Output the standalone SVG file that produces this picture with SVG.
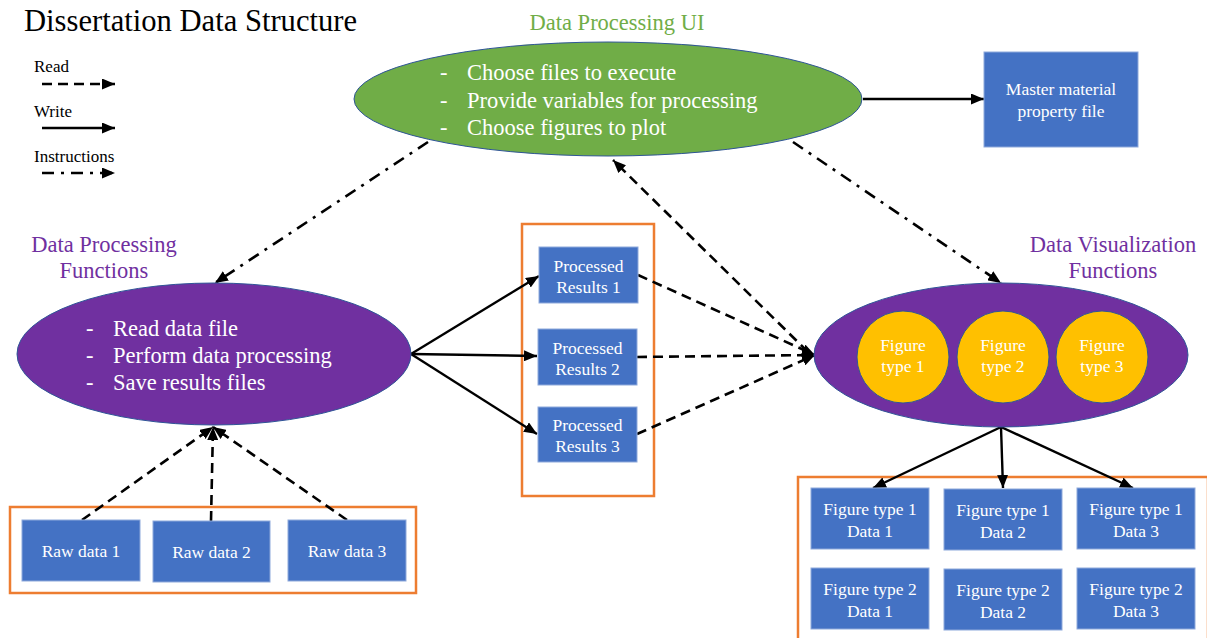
<svg xmlns="http://www.w3.org/2000/svg" width="1207" height="638" viewBox="0 0 1207 638" font-family="'Liberation Serif', 'Times New Roman', serif">
  <style>
    text { font-family: 'Liberation Serif', 'Times New Roman', serif; }
    .title { font-size: 30.6px; fill: #000; }
    .legend { font-size: 17px; fill: #000; }
    .glabel { font-size: 22.5px; fill: #70AD47; text-anchor: middle; }
    .plabel { font-size: 22.5px; fill: #7030A0; text-anchor: middle; }
    .bullet { font-size: 22.5px; fill: #fff; }
    .box { fill: #4472C4; stroke: #8EA9DB; stroke-width: 1; }
    .btext { font-size: 17.5px; fill: #fff; text-anchor: middle; }
    .group { fill: none; stroke: #ED7D31; stroke-width: 2.5; }
    .write { stroke: #000; stroke-width: 2.4; fill: none; marker-end: url(#head); }
    .read { stroke: #000; stroke-width: 2.6; fill: none; stroke-dasharray: 10 6; marker-end: url(#head); }
    .instr { stroke: #000; stroke-width: 2.6; fill: none; stroke-dasharray: 12 7 3 7; marker-end: url(#head); }
  </style>
  <defs>
    <marker id="head" markerUnits="userSpaceOnUse" markerWidth="13" markerHeight="11" refX="13" refY="5.5" orient="auto">
      <path d="M0,0 L13,5.5 L0,11 z" fill="#000"/>
    </marker>
  </defs>

  <rect width="1207" height="638" fill="#fff"/>

  <!-- heading and legend -->
  <text class="title" x="24" y="31">Dissertation Data Structure</text>
  <g id="legend">
    <text class="legend" x="34" y="72">Read</text>
    <line class="read" x1="42" y1="84" x2="115" y2="84"/>
    <text class="legend" x="34" y="117">Write</text>
    <line class="write" x1="42" y1="128" x2="115" y2="128"/>
    <text class="legend" x="34" y="162">Instructions</text>
    <line class="instr" x1="42" y1="173" x2="115" y2="173"/>
  </g>

  <!-- group frames -->
  <rect class="group" x="522" y="224" width="132" height="272"/>
  <rect class="group" x="10" y="507" width="406" height="86"/>
  <rect class="group" x="798" y="477" width="410" height="170"/>

  <!-- connectors -->
  <g id="connectors">
    <line class="write" x1="863" y1="99" x2="984" y2="99"/>
    <line class="instr" x1="428" y1="142" x2="215" y2="283"/>
    <line class="instr" x1="793" y1="142" x2="1001" y2="283"/>
    <line class="write" x1="411" y1="354" x2="539" y2="276"/>
    <line class="write" x1="411" y1="354" x2="537" y2="356"/>
    <line class="write" x1="411" y1="354" x2="537" y2="434"/>
    <line class="read" x1="638" y1="275" x2="815" y2="355"/>
    <line class="read" x1="637" y1="357" x2="815" y2="355"/>
    <line class="read" x1="637" y1="434" x2="815" y2="355"/>
    <line class="read" x1="808" y1="352" x2="613" y2="160"/>
    <line class="read" x1="82" y1="520" x2="213" y2="427"/>
    <line class="read" x1="211" y1="521" x2="213" y2="427"/>
    <line class="read" x1="347" y1="520" x2="213" y2="427"/>
    <line class="write" x1="1001" y1="427" x2="873" y2="488"/>
    <line class="write" x1="1001" y1="427" x2="1003" y2="488"/>
    <line class="write" x1="1001" y1="427" x2="1133" y2="488"/>
  </g>

  <!-- user interface -->
  <g id="ui">
    <text class="glabel" x="617" y="30">Data Processing UI</text>
    <ellipse cx="608" cy="99" rx="254" ry="57" fill="#70AD47" stroke="#2F5597" stroke-width="1"/>
    <text class="bullet" x="440" y="80">-</text>
    <text class="bullet" x="467" y="80">Choose files to execute</text>
    <text class="bullet" x="440" y="107.5">-</text>
    <text class="bullet" x="467" y="107.5">Provide variables for processing</text>
    <text class="bullet" x="440" y="135">-</text>
    <text class="bullet" x="467" y="135">Choose figures to plot</text>
  </g>

  <g id="master">
    <rect class="box" x="984" y="52" width="154" height="95"/>
    <text class="btext" x="1061" y="95">Master material</text>
    <text class="btext" x="1061" y="117">property file</text>
  </g>

  <!-- processing functions -->
  <g id="processing">
    <text class="plabel" x="104" y="252">Data Processing</text>
    <text class="plabel" x="104" y="278">Functions</text>
    <ellipse cx="214" cy="354" rx="197" ry="71" fill="#7030A0" stroke="#2F5597" stroke-width="1"/>
    <text class="bullet" x="86" y="336">-</text>
    <text class="bullet" x="113" y="336">Read data file</text>
    <text class="bullet" x="86" y="363">-</text>
    <text class="bullet" x="113" y="363">Perform data processing</text>
    <text class="bullet" x="86" y="390">-</text>
    <text class="bullet" x="113" y="390">Save results files</text>
  </g>

  <!-- processed results -->
  <g id="result1">
    <rect class="box" x="539" y="247" width="99" height="56"/>
    <text class="btext" x="588.5" y="272">Processed</text>
    <text class="btext" x="588.5" y="293">Results 1</text>
  </g>
  <g id="result2">
    <rect class="box" x="538" y="329" width="99" height="56"/>
    <text class="btext" x="587.5" y="354">Processed</text>
    <text class="btext" x="587.5" y="375">Results 2</text>
  </g>
  <g id="result3">
    <rect class="box" x="538" y="407" width="99" height="55"/>
    <text class="btext" x="587.5" y="431">Processed</text>
    <text class="btext" x="587.5" y="452">Results 3</text>
  </g>

  <!-- raw data -->
  <g id="raw1">
    <rect class="box" x="22" y="520" width="118" height="61"/>
    <text class="btext" x="81" y="557">Raw data 1</text>
  </g>
  <g id="raw2">
    <rect class="box" x="153" y="521" width="117" height="61"/>
    <text class="btext" x="211.5" y="558">Raw data 2</text>
  </g>
  <g id="raw3">
    <rect class="box" x="288" y="520" width="118" height="61"/>
    <text class="btext" x="347" y="557">Raw data 3</text>
  </g>

  <!-- visualization functions -->
  <g id="visualization">
    <text class="plabel" x="1113" y="252">Data Visualization</text>
    <text class="plabel" x="1113" y="278">Functions</text>
    <ellipse cx="1001" cy="355" rx="187" ry="72" fill="#7030A0" stroke="#2F5597" stroke-width="1"/>
  </g>
  <g id="figtype1">
    <circle cx="903" cy="357" r="46" fill="#FFC000" stroke="#2F5597" stroke-width="1"/>
    <text class="btext" x="903" y="351">Figure</text>
    <text class="btext" x="903" y="372">type 1</text>
  </g>
  <g id="figtype2">
    <circle cx="1003" cy="357" r="46" fill="#FFC000" stroke="#2F5597" stroke-width="1"/>
    <text class="btext" x="1003" y="351">Figure</text>
    <text class="btext" x="1003" y="372">type 2</text>
  </g>
  <g id="figtype3">
    <circle cx="1102" cy="357" r="46" fill="#FFC000" stroke="#2F5597" stroke-width="1"/>
    <text class="btext" x="1102" y="351">Figure</text>
    <text class="btext" x="1102" y="372">type 3</text>
  </g>

  <!-- figure outputs -->
  <g id="fig1data1">
    <rect class="box" x="811" y="488" width="118" height="61"/>
    <text class="btext" x="870" y="515">Figure type 1</text>
    <text class="btext" x="870" y="537">Data 1</text>
  </g>
  <g id="fig1data2">
    <rect class="box" x="944" y="489" width="118" height="61"/>
    <text class="btext" x="1003" y="516">Figure type 1</text>
    <text class="btext" x="1003" y="538">Data 2</text>
  </g>
  <g id="fig1data3">
    <rect class="box" x="1077" y="488" width="118" height="61"/>
    <text class="btext" x="1136" y="515">Figure type 1</text>
    <text class="btext" x="1136" y="537">Data 3</text>
  </g>
  <g id="fig2data1">
    <rect class="box" x="811" y="568" width="118" height="61"/>
    <text class="btext" x="870" y="595">Figure type 2</text>
    <text class="btext" x="870" y="617">Data 1</text>
  </g>
  <g id="fig2data2">
    <rect class="box" x="944" y="569" width="118" height="61"/>
    <text class="btext" x="1003" y="596">Figure type 2</text>
    <text class="btext" x="1003" y="618">Data 2</text>
  </g>
  <g id="fig2data3">
    <rect class="box" x="1077" y="568" width="118" height="61"/>
    <text class="btext" x="1136" y="595">Figure type 2</text>
    <text class="btext" x="1136" y="617">Data 3</text>
  </g>
</svg>
